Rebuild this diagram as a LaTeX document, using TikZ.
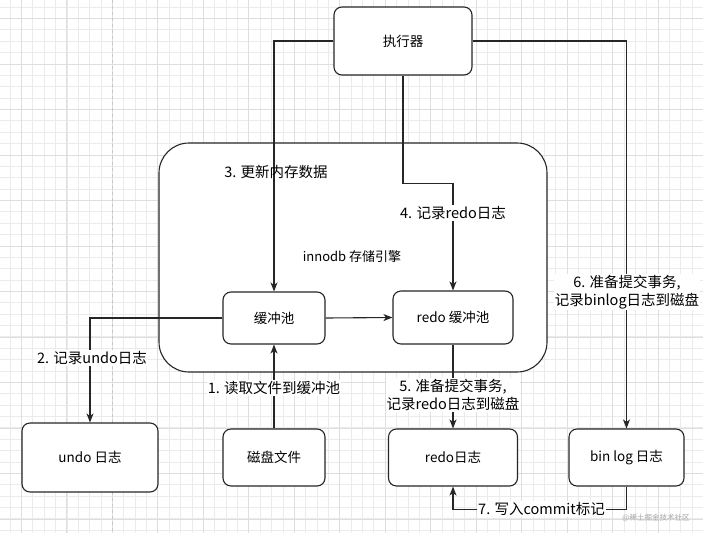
\documentclass[tikz,border=0pt]{standalone}
\usepackage{fontspec}
\setmainfont{Noto Sans CJK SC}
\usetikzlibrary{arrows.meta}
\begin{document}
\begin{tikzpicture}[x=1pt,y=-1pt,
  box/.style={draw=black!85,line width=1.1pt,fill=white,rounded corners=8pt,font=\fontsize{13.5}{16}\selectfont,inner sep=0pt},
  arr/.style={draw=black!85,line width=1.1pt,-{Stealth[length=9pt,width=7pt,inset=2.5pt]}},
  ln/.style={draw=black!85,line width=1.1pt},
  lbl/.style={font=\fontsize{14.5}{18}\selectfont,align=center,inner sep=1pt},
  lblw/.style={lbl,fill=white}]
\useasboundingbox (0,0) rectangle (703,533);
\fill[white] (0,0) rectangle (703,533);
% grid
\foreach \i in {0,...,62} {\draw[black!8,line width=0.5pt] ({9.9+11.37*\i},0) -- ({9.9+11.37*\i},533);}
\foreach \j in {0,...,47} {\draw[black!8,line width=0.5pt] (0,{7+11.37*\j}) -- (703,{7+11.37*\j});}
\foreach \i in {0,...,15} {\draw[black!13,line width=0.6pt] ({21.2+45.5*\i},0) -- ({21.2+45.5*\i},533);}
\foreach \j in {0,...,12} {\draw[black!13,line width=0.6pt] (0,{18.3+45.5*\j}) -- (703,{18.3+45.5*\j});}
\draw[black!22,line width=0.6pt,dash pattern=on 3pt off 3pt] (112,0) -- (112,533);
% container
\draw[ln,fill=white,rounded corners=30pt] (159,143) rectangle (547,372);
\node[font=\fontsize{13}{16}\selectfont] (innodb) at (352,257) {innodb 存储引擎};
% boxes
\node[box,minimum width=138pt,minimum height=68pt] (exec) at (403,41) {执行器};
\node[box,minimum width=102pt,minimum height=52pt] (pool) at (274,318) {缓冲池};
\node[box,minimum width=120pt,minimum height=53pt] (rpool) at (453,317.5) {redo 缓冲池};
\node[box,minimum width=136pt,minimum height=69pt] (undo) at (90,457.5) {undo 日志};
\node[box,minimum width=102pt,minimum height=57pt] (disk) at (274,457.5) {磁盘文件};
\node[box,minimum width=129pt,minimum height=57pt] (redolog) at (453,457.5) {redo日志};
\node[box,minimum width=115pt,minimum height=57pt] (binlog) at (626.5,457.5) {bin log 日志};
% connectors
\draw[arr] (exec.west) -| (pool.north);
\draw[arr] (exec.south) -- ++(0,108) -| (rpool.north);
\draw[arr] (exec.east) -| (binlog.north);
\draw[arr] (pool.east) -- (rpool.west);
\draw[arr] (pool.west) -| (undo.north);
\draw[arr] (disk.north) -- (pool.south);
\draw[arr] (rpool.south) -- (redolog.north);
\draw[arr] (binlog.south) -- ++(0,22.5) -| (redolog.south);
% labels
\node[lbl] (l3) at (276,172) {3. 更新内存数据};
\node[lblw] (l4) at (453,213) {4. 记录redo日志};
\node[lblw] (l6) at (627,292) {6. 准备提交事务,\\记录binlog日志到磁盘};
\node[lblw] (l2) at (92,358) {2. 记录undo日志};
\node[lblw] (l1) at (274,388) {1. 读取文件到缓冲池};
\node[lblw] (l5) at (453,395) {5. 准备提交事务,\\记录redo日志到磁盘};
\node[lblw] (l7) at (541.5,509) {7. 写入commit标记};
\node[font=\fontsize{7.5}{9}\selectfont,text=black!35] (wm) at (656,518) {@稀土掘金技术社区};
\end{tikzpicture}
\end{document}
